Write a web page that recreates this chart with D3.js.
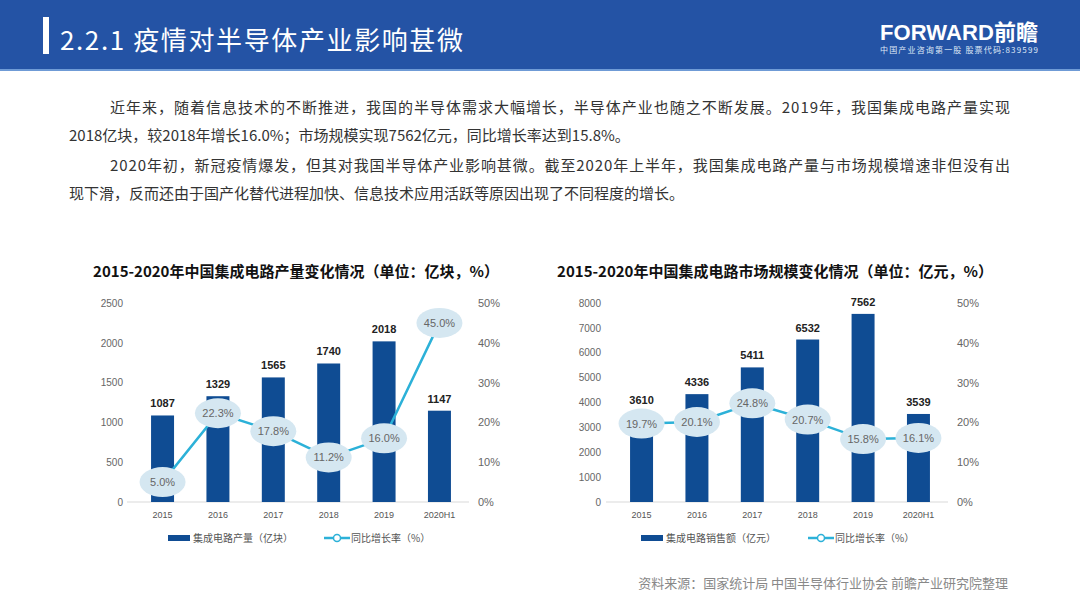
<!DOCTYPE html>
<html>
<head>
<meta charset="utf-8">
<script src="https://cdn.jsdelivr.net/npm/d3@7"></script>
<style>
  body { margin: 0; background: #fff; }
  svg { display: block; }
  text { font-family: "Noto Sans CJK SC", "Liberation Sans", sans-serif; }
</style>
</head>
<body>
<svg id="page" width="1080" height="607"></svg>
<script>
// chart data
var years = ["2015", "2016", "2017", "2018", "2019", "2020H1"];
var outputVals = [1087, 1329, 1565, 1740, 2018, 1147];
var outputGrowth = [5.0, 22.3, 17.8, 11.2, 16.0, 45.0];
var marketVals = [3610, 4336, 5411, 6532, 7562, 3539];
var marketGrowth = [19.7, 20.1, 24.8, 20.7, 15.8, 16.1];
var outputTicks = [0, 500, 1000, 1500, 2000, 2500];
var marketTicks = [0, 1000, 2000, 3000, 4000, 5000, 6000, 7000, 8000];
var pctTicks = [0, 10, 20, 30, 40, 50];

var paragraph = [
  "近年来，随着信息技术的不断推进，我国的半导体需求大幅增长，半导体产业也随之不断发展。2019年，我国集成电路产量实现",
  "2018亿块，较2018年增长16.0%；市场规模实现7562亿元，同比增长率达到15.8%。",
  "2020年初，新冠疫情爆发，但其对我国半导体产业影响甚微。截至2020年上半年，我国集成电路产量与市场规模增速非但没有出",
  "现下滑，反而还由于国产化替代进程加快、信息技术应用活跃等原因出现了不同程度的增长。"
];

var barColor = "#0f4c93",
	lineColor = "#2cb1d8",
	bubbleColor = "#d5e7f1";

var svg = d3.select("#page");

// header
svg.append("rect").attr("x", 0).attr("y", 0).attr("width", 1080).attr("height", 69).style("fill", "#2453a5");
svg.append("rect").attr("x", 0).attr("y", 69).attr("width", 1080).attr("height", 2).style("fill", "#6f9bd6");
svg.append("rect").attr("x", 43).attr("y", 17).attr("width", 6).attr("height", 37).style("fill", "#fff");
svg.append("text")
	.attr("x", 60).attr("y", 50)
	.attr("textLength", 403).attr("lengthAdjust", "spacing")
	.style("font-size", "26px").style("fill", "#fff")
	.text("2.2.1 疫情对半导体产业影响甚微");

svg.append("text")
	.attr("x", 880).attr("y", 40)
	.style("font-size", "22px").style("font-weight", "bold").style("fill", "#fff")
	.style("font-family", "'Liberation Sans', 'Noto Sans CJK SC'")
	.attr("textLength", 158)
	.text("FORWARD前瞻");
svg.append("text")
	.attr("x", 880).attr("y", 53)
	.style("font-size", "8px").style("fill", "#dfe8f6")
	.attr("textLength", 158)
	.text("中国产业咨询第一股 股票代码:839599");

// intro text
svg.selectAll(".para")
	.data(paragraph)
	.enter().append("text")
	.attr("class", "para")
	.attr("x", function(d, i) { return i % 2 == 0 ? 110 : 69; })
	.attr("y", function(d, i) { return [113, 141, 171, 199][i]; })
	.attr("textLength", function(d, i) { return i % 2 == 0 ? 900 : null; })
	.style("font-size", "15px")
	.style("fill", "#333")
	.text(function(d) { return d; });

function drawChart(cfg) {
	var g = svg.append("g");
	var x = d3.scaleBand().domain(years).range([cfg.x0, cfg.x1]).paddingInner(0.585).paddingOuter(0.29);
	var y = d3.scaleLinear().domain([0, cfg.yMax]).range([502, 303]);
	var yp = d3.scaleLinear().domain([0, 50]).range([502, 303]);

	g.append("text")
		.attr("x", cfg.titleX).attr("y", 277)
		.attr("text-anchor", "middle")
		.style("font-size", "15px").style("font-weight", "bold").style("fill", "#111")
		.text(cfg.title);

	var yAxis = d3.axisLeft(y).tickValues(cfg.ticks).tickSize(0).tickPadding(0).tickFormat(d3.format("d"));
	var ya = g.append("g").attr("transform", "translate(" + cfg.leftLabelX + ",0)").call(yAxis);
	ya.select(".domain").remove();
	ya.selectAll("text").style("font-size", "10px").style("fill", "#666").style("font-family", "'Liberation Sans'");

	var rAxis = d3.axisRight(yp).tickValues(pctTicks).tickSize(0).tickPadding(0)
		.tickFormat(function(d) { return d + "%"; });
	var ra = g.append("g").attr("transform", "translate(" + cfg.rightLabelX + ",0)").call(rAxis);
	ra.select(".domain").remove();
	ra.selectAll("text").style("font-size", "11px").style("fill", "#666").style("font-family", "'Liberation Sans'");

	g.append("line")
		.attr("x1", cfg.x0 - 8).attr("x2", cfg.x1 + 2)
		.attr("y1", y(0)).attr("y2", y(0))
		.style("stroke", "#d9d9d9").style("stroke-width", 1);

	var xAxis = d3.axisBottom(x).tickSize(0).tickPadding(10);
	var xa = g.append("g").attr("transform", "translate(0," + y(0) + ")").call(xAxis);
	xa.select(".domain").remove();
	xa.selectAll("text").style("font-size", "9px").style("fill", "#555").style("font-family", "'Liberation Sans'");

	g.selectAll(".bar")
		.data(cfg.vals)
		.enter().append("rect")
		.attr("x", function(d, i) { return x(years[i]); })
		.attr("y", function(d) { return y(d); })
		.attr("width", x.bandwidth())
		.attr("height", function(d) { return y(0) - y(d); })
		.style("fill", barColor);

	g.selectAll(".barlabel")
		.data(cfg.vals)
		.enter().append("text")
		.attr("x", function(d, i) { return x(years[i]) + x.bandwidth() / 2; })
		.attr("y", function(d) { return y(d) - 8; })
		.attr("text-anchor", "middle")
		.style("font-size", "11px").style("font-weight", "bold").style("fill", "#222")
		.style("font-family", "'Liberation Sans'")
		.text(function(d) { return d; });

	var line = d3.line()
		.x(function(d, i) { return x(years[i]) + x.bandwidth() / 2; })
		.y(function(d) { return yp(d); });
	g.append("path")
		.datum(cfg.growth)
		.attr("d", line)
		.style("fill", "none").style("stroke", lineColor).style("stroke-width", 2.5);

	var bub = g.selectAll(".bubble")
		.data(cfg.growth)
		.enter().append("g")
		.attr("transform", function(d, i) {
			return "translate(" + (x(years[i]) + x.bandwidth() / 2) + "," + yp(d) + ")";
		});
	bub.append("ellipse").attr("rx", 23).attr("ry", 15).style("fill", bubbleColor);
	bub.append("text")
		.attr("y", 4)
		.attr("text-anchor", "middle")
		.style("font-size", "11px").style("fill", "#666").style("font-family", "'Liberation Sans'")
		.text(function(d) { return d.toFixed(1) + "%"; });

	// legend
	var lg = g.append("g").attr("transform", "translate(0,538)");
	lg.append("rect").attr("x", cfg.legX).attr("y", -3).attr("width", 22).attr("height", 6).style("fill", barColor);
	lg.append("text").attr("x", cfg.legX + 25).attr("y", 4)
		.style("font-size", "10px").style("fill", "#555").text(cfg.legend);
	lg.append("line").attr("x1", cfg.leg2X).attr("x2", cfg.leg2X + 26).attr("y1", 0).attr("y2", 0)
		.style("stroke", lineColor).style("stroke-width", 2.5);
	lg.append("circle").attr("cx", cfg.leg2X + 13).attr("cy", 0).attr("r", 3.5)
		.style("fill", "#fff").style("stroke", lineColor).style("stroke-width", 1.5);
	lg.append("text").attr("x", cfg.leg2X + 27).attr("y", 4)
		.style("font-size", "10px").style("fill", "#555").text("同比增长率（%）");
}

drawChart({
	x0: 135, x1: 467, yMax: 2500, ticks: outputTicks,
	vals: outputVals, growth: outputGrowth,
	leftLabelX: 123, rightLabelX: 478, titleX: 296,
	title: "2015-2020年中国集成电路产量变化情况（单位：亿块，%）",
	legend: "集成电路产量（亿块）", legX: 168, leg2X: 324
});

drawChart({
	x0: 614, x1: 946, yMax: 8000, ticks: marketTicks,
	vals: marketVals, growth: marketGrowth,
	leftLabelX: 601, rightLabelX: 957, titleX: 775,
	title: "2015-2020年中国集成电路市场规模变化情况（单位：亿元，%）",
	legend: "集成电路销售额（亿元）", legX: 641, leg2X: 808
});

// source
svg.append("text")
	.attr("x", 1008).attr("y", 588)
	.attr("text-anchor", "end")
	.style("font-size", "13px").style("fill", "#888")
	.text("资料来源：国家统计局 中国半导体行业协会 前瞻产业研究院整理");
</script>
</body>
</html>
